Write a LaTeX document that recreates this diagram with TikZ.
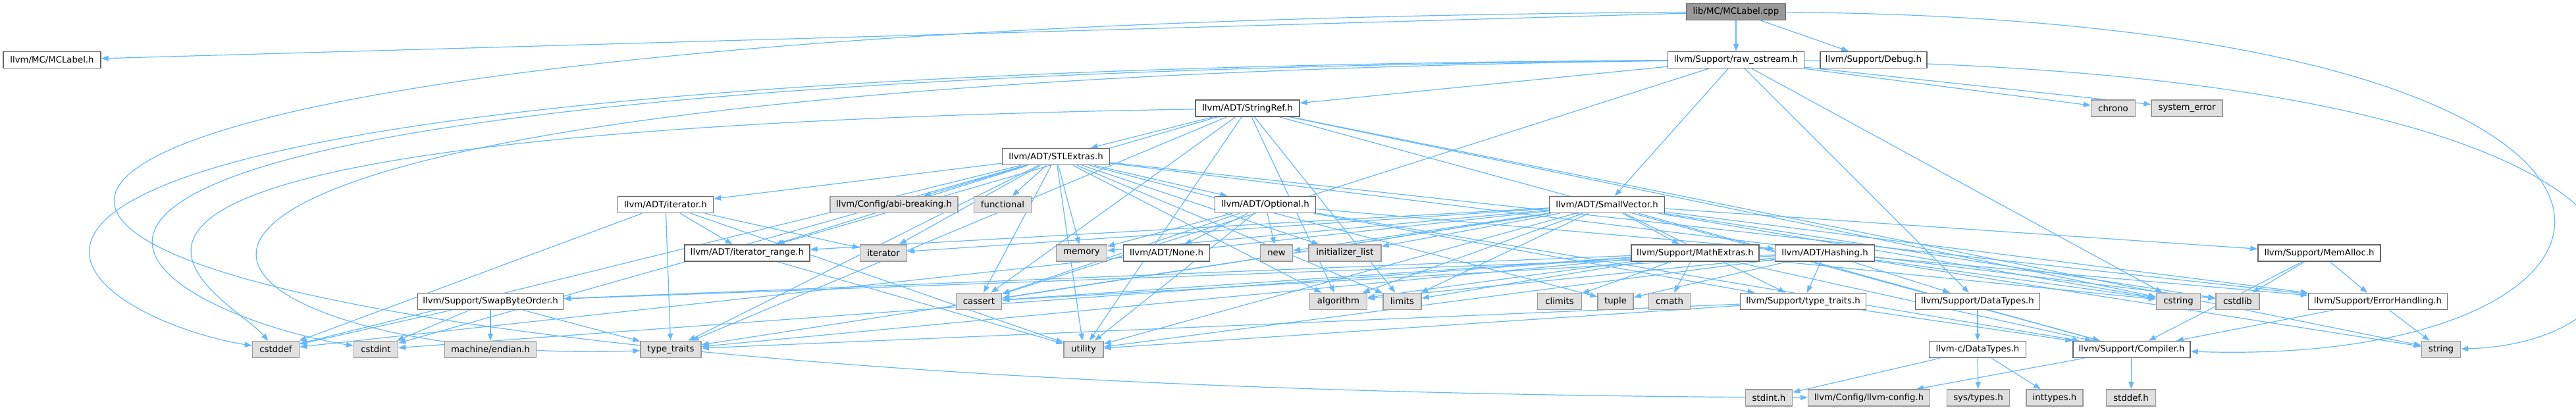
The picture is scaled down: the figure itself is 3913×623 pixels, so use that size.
\documentclass[tikz,border=0pt]{standalone}
\usepackage{fontspec}
\setmainfont{DejaVu Sans}
\usetikzlibrary{arrows.meta,positioning}
\definecolor{edgeblue}{HTML}{63B8FF}
\definecolor{boxline}{HTML}{666666}
\definecolor{sysline}{HTML}{999999}
\definecolor{sysfill}{HTML}{E0E0E0}
\definecolor{rootfill}{HTML}{999999}
\pgfdeclarelayer{bg}
\pgfsetlayers{bg,main}

\begin{document}
\begin{tikzpicture}[x=1pt, y=-1pt,
    every node/.style={font=\fontsize{13.3}{16}\selectfont},
    box/.style={rectangle, minimum height=25pt, inner sep=0pt, line width=1.5pt, minimum width=#1},
    hdr/.style={box=#1, draw=boxline, fill=white},
    sys/.style={box=#1, draw=sysline, fill=sysfill},
    root/.style={box=#1, draw=boxline, fill=rootfill},
    dep/.style={draw=edgeblue, line width=1.2pt, -{Triangle[length=11pt,width=8pt]}}]
    \useasboundingbox (0,0) rectangle (3913,623);

    % Row 1-2
    \node[root=151pt] (cpp) at (2637,18) {lib/MC/MCLabel.cpp};
    \node[hdr=148pt] (mclabel) at (79,91) {llvm/MC/MCLabel.h};
    \node[hdr=207pt] (rawos) at (2637,91) {llvm/Support/raw\_ostream.h};
    \node[hdr=162pt] (debug) at (2846,91) {llvm/Support/Debug.h};

    % Row 3-4
    \node[hdr=158pt] (stringref) at (1895,164.5) {llvm/ADT/StringRef.h};
    \node[sys=67pt] (chrono) at (3210,164.5) {chrono};
    \node[sys=108pt] (syserr) at (3322,164.5) {system\_error};
    \node[hdr=163pt] (stlextras) at (1604,238) {llvm/ADT/STLExtras.h};

    % Row 5
    \node[hdr=145pt] (iterh) at (1011,311) {llvm/ADT/iterator.h};
    \node[sys=194pt] (abibrk) at (1358,311) {llvm/Config/abi-breaking.h};
    \node[sys=87pt] (functional) at (1523,311) {functional};
    \node[hdr=153pt] (optional) at (1922,311) {llvm/ADT/Optional.h};
    \node[hdr=175pt] (smallvec) at (2441,311) {llvm/ADT/SmallVector.h};

    % Row 6
    \node[hdr=190pt] (iterrange) at (1135,384.5) {llvm/ADT/iterator\_range.h};
    \node[sys=71pt] (iterator) at (1342,384.5) {iterator};
    \node[sys=77pt] (memory) at (1643,384.5) {memory};
    \node[hdr=131pt] (none) at (1772,384.5) {llvm/ADT/None.h};
    \node[sys=49pt] (stdnew) at (1939,384.5) {new};
    \node[sys=110pt] (initlist) at (2043,384.5) {initializer\_list};
    \node[hdr=194pt] (mathext) at (2575,384.5) {llvm/Support/MathExtras.h};
    \node[hdr=151pt] (hashing) at (2772,384.5) {llvm/ADT/Hashing.h};
    \node[hdr=186pt] (memalloc) at (3523,384.5) {llvm/Support/MemAlloc.h};

    % Row 7
    \node[hdr=221pt] (swapbo) at (745,458) {llvm/Support/SwapByteOrder.h};
    \node[sys=69pt] (cassert) at (1487,458) {cassert};
    \node[sys=87pt] (algorithm) at (2033,458) {algorithm};
    \node[sys=58pt] (limits) at (2130,458) {limits};
    \node[sys=67pt] (climits) at (2369,458) {climits};
    \node[sys=54pt] (tuple) at (2454,458) {tuple};
    \node[sys=63pt] (cmath) at (2536,458) {cmath};
    \node[hdr=191pt] (stypetr) at (2739,458) {llvm/Support/type\_traits.h};
    \node[hdr=189pt] (sdatatypes) at (3004,458) {llvm/Support/DataTypes.h};
    \node[sys=67pt] (cstring) at (3309,458) {cstring};
    \node[sys=66pt] (cstdlib) at (3399,458) {cstdlib};
    \node[hdr=211pt] (errhand) at (3612,458) {llvm/Support/ErrorHandling.h};

    % Row 8
    \node[sys=71pt] (cstddef) at (419,531) {cstddef};
    \node[sys=67pt] (cstdint) at (571,531) {cstdint};
    \node[sys=139pt] (endian) at (745,531) {machine/endian.h};
    \node[sys=92pt] (typetraits) at (1019,531) {type\_traits};
    \node[sys=60pt] (utility) at (1646,531) {utility};
    \node[hdr=147pt] (cdatatypes) at (3004,531) {llvm-c/DataTypes.h};
    \node[hdr=178pt] (compiler) at (3238,531) {llvm/Support/Compiler.h};
    \node[sys=59pt] (string) at (3708,531) {string};

    % Row 9
    \node[sys=71pt] (stdint) at (2687,604.5) {stdint.h};
    \node[sys=185pt] (llvmconfig) at (2839,604.5) {llvm/Config/llvm-config.h};
    \node[sys=95pt] (systypes) at (3005,604.5) {sys/types.h};
    \node[sys=86pt] (inttypes) at (3121,604.5) {inttypes.h};
    \node[sys=75pt] (stddef) at (3237,604.5) {stddef.h};

    \begin{pgfonlayer}{bg}
        % MCLabel.cpp
        \foreach \t in {mclabel,rawos,debug}
            \draw[dep] (cpp) -- (\t);
        \draw[dep] (cpp) .. controls (-700,40) and (-600,590) .. (llvmconfig);
        \draw[dep] (cpp) .. controls (4200,30) and (4100,560) .. (compiler);

        % raw_ostream.h
        \foreach \t in {smallvec,stringref,sdatatypes,cassert,chrono,cstring,syserr}
            \draw[dep] (rawos) -- (\t);
        \draw[dep] (rawos) .. controls (-500,110) and (100,480) .. (cstddef);
        \draw[dep] (rawos) .. controls (-450,120) and (200,470) .. (cstdint);
        \draw[dep] (rawos) .. controls (-300,130) and (250,560) .. (typetraits);
        \draw[dep] (rawos) .. controls (4180,110) and (4100,520) .. (string);

        % StringRef.h
        \foreach \t in {stlextras,iterrange,compiler,algorithm,cassert,cstring,limits,string,typetraits,utility}
            \draw[dep] (stringref) -- (\t);
        \draw[dep] (stringref) .. controls (-200,200) and (340,440) .. (cstddef);

        % STLExtras.h
        \foreach \t in {optional,iterh,iterrange,abibrk,errhand,algorithm,cassert,cstddef,cstdint,cstdlib,functional,initlist,iterator,limits,memory,tuple,typetraits,utility}
            \draw[dep] (stlextras) -- (\t);

        % iterator.h, iterator_range.h
        \foreach \t in {iterrange,cstddef,iterator,typetraits,utility}
            \draw[dep] (iterh) -- (\t);
        \draw[dep] (iterrange) -- (utility);

        % Optional.h
        \foreach \t in {hashing,none,compiler,stypetr,cassert,memory,stdnew,utility}
            \draw[dep] (optional) -- (\t);

        % SmallVector.h
        \foreach \t in {iterrange,compiler,errhand,mathext,memalloc,stypetr,algorithm,cassert,cstddef,cstdlib,cstring,initlist,iterator,limits,memory,stdnew,typetraits,utility}
            \draw[dep] (smallvec) -- (\t);

        % MathExtras.h
        \foreach \t in {compiler,swapbo,algorithm,cassert,climits,cmath,cstdint,cstring,limits,typetraits}
            \draw[dep] (mathext) -- (\t);

        % Hashing.h
        \foreach \t in {sdatatypes,errhand,swapbo,stypetr,algorithm,cassert,cstring,string,tuple,utility}
            \draw[dep] (hashing) -- (\t);

        % lower headers
        \foreach \t in {cstddef,cstdint,endian,typetraits}
            \draw[dep] (swapbo) -- (\t);
        \foreach \t in {compiler,typetraits,utility}
            \draw[dep] (stypetr) -- (\t);
        \draw[dep] (sdatatypes) -- (cdatatypes);
        \foreach \t in {inttypes,stdint,systypes}
            \draw[dep] (cdatatypes) -- (\t);
        \foreach \t in {llvmconfig,stddef}
            \draw[dep] (compiler) -- (\t);
        \foreach \t in {compiler,string}
            \draw[dep] (errhand) -- (\t);
        \foreach \t in {compiler,errhand,cstdlib}
            \draw[dep] (memalloc) -- (\t);
    \end{pgfonlayer}
\end{tikzpicture}
\end{document}
